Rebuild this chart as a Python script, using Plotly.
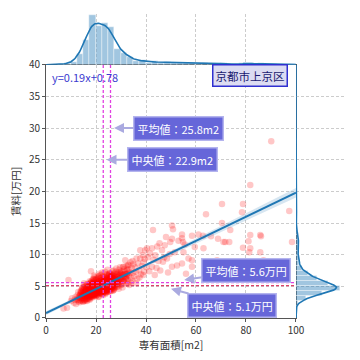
import numpy as np
import plotly.graph_objects as go

# ---- data: (専有面積 m2, 賃料 万円), grouped by region ----
pts_small = [(7.0,1.5),(8.4,1.6),(9.0,6.0),(10.4,3.1),(10.0,2.7),(11.2,2.4),(11.8,3.3),(12.3,2.9),
             (12.6,3.6),(12.0,2.2),(12.9,4.1),(11.5,2.9),(13.0,2.6),(12.7,3.1)]
pts_b = [(13.4,3.2),(13.8,2.8),(14.1,3.9),(14.3,3.0),(14.6,3.5),(14.9,4.4),(15.1,2.9),(15.3,3.7),(15.5,4.1),
         (15.7,3.3),(15.9,5.0),(16.1,3.8),(16.2,4.5),(16.4,2.7),(16.5,3.4),(16.7,4.0),(16.8,4.8),(16.9,3.6),
         (13.6,3.6),(14.4,4.7),(15.0,3.2),(15.8,4.3),(16.3,5.3),(14.8,2.6),(16.6,3.1),(15.4,4.8),(13.9,4.2),
         (16.0,3.0),(15.2,5.5),(16.9,4.2)]
pts_c = [(17.0,3.9),(17.1,4.6),(17.2,3.3),(17.3,5.2),(17.4,4.1),(17.5,2.9),(17.6,4.9),(17.7,3.7),(17.8,5.6),
         (17.9,4.3),(18.0,3.5),(18.0,7.4),(18.1,4.8),(18.2,4.0),(18.3,5.9),(18.4,3.2),(18.5,4.5),(18.6,5.3),
         (18.7,3.8),(18.8,6.2),(18.9,4.2),(19.0,5.0),(19.1,3.6),(19.2,4.7),(19.3,5.5),(19.4,4.1),(19.5,6.5),
         (19.6,3.9),(19.7,5.1),(19.8,4.4),(19.9,6.0),(17.2,4.3),(17.8,4.6),(18.3,4.4),(18.6,3.4),(19.0,4.0),
         (19.4,5.0),(19.8,3.4),(17.5,5.8),(18.9,5.6),(19.6,4.6),(18.2,5.0),(17.0,5.0),(19.2,6.7),(18.5,3.9)]
pts_d = [(20.0,4.2),(20.1,5.3),(20.2,3.6),(20.3,6.1),(20.4,4.7),(20.5,5.6),(20.6,3.9),(20.7,4.9),(20.8,6.6),
         (20.9,4.4),(21.0,5.2),(21.1,3.4),(21.2,5.8),(21.3,4.6),(21.4,7.0),(21.5,4.1),(21.6,5.5),(21.7,4.8),
         (21.8,6.3),(21.9,3.8),(22.0,5.0),(22.1,4.4),(22.2,6.0),(22.3,5.4),(22.4,4.2),(22.5,7.2),(22.6,4.9),
         (22.7,5.7),(22.8,3.6),(22.9,5.1),(20.2,5.0),(20.6,5.9),(20.9,3.3),(21.2,4.3),(21.5,6.7),(21.8,5.1),
         (22.1,3.9),(22.4,5.6),(22.7,6.5),(20.4,4.0),(21.0,6.4),(21.6,4.5),(22.2,4.7),(22.8,4.6),(20.7,5.4),
         (21.4,5.0),(22.0,6.8),(22.6,3.8),(21.9,5.3),(20.1,4.6)]
pts_e = [(23.0,4.8),(23.1,5.9),(23.2,4.1),(23.3,6.6),(23.4,5.2),(23.5,4.5),(23.6,7.3),(23.7,5.6),(23.8,4.0),
         (23.9,6.1),(24.0,5.0),(24.1,4.6),(24.2,6.9),(24.3,5.4),(24.4,4.3),(24.5,5.8),(24.6,7.6),(24.7,4.9),
         (24.8,6.3),(24.9,5.3),(25.0,4.4),(25.1,6.0),(25.2,5.1),(25.3,7.0),(25.4,4.7),(25.5,5.7),(25.6,6.5),
         (25.7,4.2),(25.8,5.5),(25.9,6.2),(23.2,5.4),(23.6,4.6),(24.0,6.4),(24.4,5.1),(24.8,4.5),(25.2,5.9),
         (25.6,5.0),(23.4,6.0),(23.9,4.4),(24.6,5.5),(25.0,6.7),(25.4,5.3),(23.1,5.0),(24.2,4.8),(25.8,4.8)]
pts_f = [(26.0,5.4),(26.1,6.8),(26.3,4.6),(26.4,5.9),(26.6,7.4),(26.7,5.0),(26.9,6.3),(27.0,4.4),(27.2,5.6),
         (27.3,7.0),(27.5,6.0),(27.6,4.8),(27.8,6.6),(27.9,5.3),(28.1,7.8),(28.2,5.8),(28.4,4.9),(28.5,6.4),
         (28.7,5.5),(28.8,7.2),(29.0,6.1),(29.1,4.6),(29.3,6.9),(29.4,5.7),(29.6,8.0),(29.7,6.3),(29.9,5.2),
         (26.2,5.2),(26.8,5.7),(27.4,5.1),(28.0,6.1),(28.6,6.0),(29.2,5.4),(29.8,7.1),(27.1,6.2),(28.3,6.9),
         (29.5,6.6),(26.5,6.2),(27.7,5.5),(28.9,5.0)]
pts_g = [(30.1,6.2),(30.3,7.4),(30.5,5.3),(30.8,6.8),(31.0,8.1),(31.2,5.8),(31.5,7.0),(31.7,9.1),(31.9,6.4),
         (32.1,5.5),(32.4,7.6),(32.6,6.0),(32.9,8.4),(33.1,6.7),(33.3,5.2),(33.6,7.2),(33.8,8.8),(34.0,6.3),
         (34.3,7.9),(34.5,5.9),(34.8,7.1),(35.0,8.5),(30.6,4.8),(31.4,6.5),(32.2,6.9),(33.0,7.7),(33.9,5.6),
         (34.6,9.0),(30.9,5.9),(32.8,5.4)]
pts_h = [(35.3,6.6),(35.6,8.0),(35.9,7.3),(36.2,9.4),(36.5,6.2),(36.8,8.6),(37.2,7.5),(37.7,9.4),(37.7,10.7),
         (38.0,6.9),(38.3,8.2),(38.7,9.9),(39.0,8.8),(39.3,7.3),(39.7,10.7),(36.0,5.5),(37.4,6.4),(38.9,6.8),
         (39.5,9.3)]
pts_i = [(40.4,11.0),(40.2,8.0),(40.8,9.6),(41.3,7.4),(41.6,10.2),(42.4,8.1),(42.4,11.0),(42.8,13.9),(43.0,9.2),
         (43.7,9.9),(44.2,7.9),(44.5,11.3),(45.4,11.8),(45.7,7.5),(46.4,10.7),(46.8,8.9),(47.3,9.6),(48.0,12.8),
         (48.4,9.4),(48.8,7.2),(49.7,12.0),(49.5,10.1),(43.5,6.8),(45.0,9.0),(47.5,11.5)]
pts_j = [(50.4,14.6),(50.8,14.0),(50.4,12.5),(50.4,8.1),(51.5,10.4),(52.4,8.3),(53.0,12.2),(54.4,13.2),
         (54.4,12.6),(54.8,12.0),(55.0,10.4),(55.5,11.6),(54.4,8.6),(57.0,9.4),(58.4,13.0),(58.4,9.1),
         (58.4,8.1),(56.0,7.0),(59.5,11.2)]
pts_k = [(61.0,13.2),(62.8,13.0),(63.0,11.0),(64.0,16.4),(64.1,7.9),(66.0,12.9),(68.4,9.1),(68.8,12.5),
         (70.4,18.0),(70.4,15.0),(71.0,12.0),(71.7,12.0),(73.3,12.0),(73.7,13.9),(78.4,16.7),(78.8,18.0),
         (78.8,11.1),(81.0,12.1),(81.3,10.4),(81.7,21.0),(81.7,13.1),(81.7,11.0),(85.7,13.1),(86.0,12.9),
         (85.7,10.4),(87.0,9.1),(90.1,27.9),(97.3,16.9),(98.4,12.0)]

# dense core (overlapping points)
core1_area = [17.0,17.1,17.1,17.2,17.3,17.3,17.4,17.5,17.5,17.6,17.7,17.7,17.8,17.9,17.9,18.0,18.1,18.1,18.2,18.3,
              18.3,18.4,18.5,18.5,18.6,18.7,18.7,18.8,18.9,18.9,19.0,19.1,19.1,19.2,19.3,19.3,19.4,19.5,19.5,19.6,
              17.2,17.6,18.0,18.4,18.8,19.2,17.4,17.8,18.2,18.6,19.0,19.4,17.1,17.5,17.9,18.3,18.7,19.1,19.5,18.5]
core1_rent = [4.1,3.5,4.8,4.4,3.8,5.1,4.6,3.3,4.0,5.4,4.2,3.7,4.9,4.5,3.9,5.2,4.3,3.6,4.7,5.5,
              4.1,3.4,4.6,5.0,4.2,3.8,5.3,4.4,3.9,4.8,4.5,3.7,5.1,4.3,4.9,3.5,4.6,5.4,4.0,4.7,
              3.2,3.9,4.5,4.9,3.6,5.8,3.0,5.0,3.7,4.6,5.4,4.2,4.4,3.8,5.5,4.0,4.5,6.1,3.6,4.8]
core2_area = [19.7,19.8,19.9,20.0,20.1,20.2,20.3,20.4,20.5,20.6,20.7,20.8,20.9,21.0,21.1,21.2,21.3,21.4,21.5,21.6,
              21.7,21.8,21.9,22.0,22.1,22.2,22.3,19.7,19.9,20.1,20.3,20.5,20.7,20.9,21.1,21.3,21.5,21.7,21.9,22.1,
              22.3,19.8,20.2,20.6,21.0,21.4,21.8,22.2,20.0,20.4,20.8,21.2,21.6,22.0,21.0]
core2_rent = [4.4,5.0,3.9,4.7,5.4,4.2,4.9,5.7,4.1,4.6,5.2,3.8,4.8,5.5,4.3,5.0,4.5,6.0,4.7,5.3,
              4.0,4.9,5.6,4.4,5.1,4.6,5.9,3.7,5.3,4.5,3.6,5.0,4.3,5.8,4.0,4.7,5.2,4.4,6.3,4.9,
              4.2,4.8,4.1,5.5,4.6,3.9,5.4,5.0,6.2,4.5,4.9,5.7,4.2,4.7,5.1]
core3_area = [22.3,22.4,22.5,22.5,22.6,22.7,22.8,22.8,22.9,23.0,23.1,23.1,23.2,23.3,23.4,23.4,23.5,23.6,23.7,23.7,
              23.8,23.9,24.0,24.0,24.1,24.2,24.3,24.3,24.4,24.5,24.6,24.6,24.7,24.8,24.9,24.9,
              22.4,22.6,22.8,23.0,23.2,23.4,23.6,23.8,24.0,24.2,24.4,24.6,24.8,
              22.5,22.9,23.3,23.7,24.1,24.5,24.9,22.7,23.1,23.5,23.9,24.3,24.7,23.0,23.6,24.2,24.8,23.3,24.5]
core3_rent = [5.0,4.5,5.6,4.2,5.3,4.8,6.1,4.4,5.1,4.7,5.5,4.1,5.8,4.9,5.2,4.3,6.4,5.0,4.6,5.4,
              4.0,5.7,4.8,5.3,4.4,6.0,5.1,4.7,5.5,4.2,5.9,4.9,5.2,4.5,6.6,5.0,
              3.9,5.2,4.6,5.9,4.3,6.2,4.8,3.8,5.4,4.5,6.8,5.0,4.1,
              5.7,4.4,5.0,6.3,4.7,5.3,4.6,4.8,5.6,4.1,5.2,6.0,4.4,5.4,4.9,5.8,5.1,4.3,5.5]
core4_area = [25.0,25.1,25.2,25.3,25.4,25.5,25.6,25.7,25.8,25.9,26.0,26.1,26.2,26.3,26.4,26.5,26.6,26.7,26.8,26.9,
              27.0,27.1,27.2,27.3,25.1,25.3,25.5,25.7,25.9,26.1,26.3,26.5,26.7,26.9,27.1,
              25.2,25.6,26.0,26.4,26.8,27.2,25.4,25.8,26.2,26.6,27.0,25.5,26.3,26.9,25.9]
core4_rent = [5.3,6.0,4.7,5.6,6.3,5.0,4.5,5.9,5.2,6.6,4.8,5.5,6.1,4.4,5.7,5.1,6.8,4.9,5.4,6.2,
              4.6,5.8,5.3,6.5,4.2,5.0,6.0,4.6,5.4,6.4,4.9,5.6,4.3,5.9,5.2,
              6.9,5.1,4.7,5.8,6.3,4.5,5.5,4.4,6.6,5.0,5.7,7.1,5.3,4.8,6.1]
core5_area = [13.1,13.3,13.5,13.7,13.9,14.0,14.2,14.4,14.5,14.7,14.9,15.0,15.2,15.3,15.5,15.6,15.8,15.9,16.1,16.2,
              16.4,16.5,16.7,16.8,16.9,13.8,14.3,14.8,15.4,15.9,16.3,16.8,14.1,14.6,15.1,15.7,16.2,16.6,15.0,16.0]
core5_rent = [2.8,3.4,2.5,3.9,3.1,4.3,2.7,3.6,4.8,3.2,4.0,2.6,3.8,4.5,3.0,5.1,3.5,4.2,2.9,4.7,
              3.3,5.4,3.9,4.4,3.0,3.7,4.1,3.5,2.8,4.6,3.6,5.0,3.3,4.5,3.9,2.7,4.0,3.7,4.9,4.3]
core6_area = [26.2,26.5,26.8,27.1,27.4,27.7,28.0,28.3,28.6,28.9,29.2,29.5,29.8,30.1,30.4,30.7,31.0,31.3,31.6,31.9,
              32.2,32.5,32.8,26.4,27.0,27.6,28.2,28.8,29.4,30.0,30.6,31.2,31.8,32.4,33.0]
core6_rent = [6.0,5.1,7.0,5.6,6.5,4.9,7.3,5.9,6.8,5.3,7.6,6.2,5.7,7.0,6.4,8.0,5.8,6.9,7.4,6.1,
              8.2,6.6,7.2,6.7,7.5,6.3,5.4,6.6,7.2,5.9,6.8,7.7,6.3,7.0,8.3]
core7_area = [17.3,17.4,17.6,17.7,17.9,18.0,18.1,18.2,18.4,18.5,18.6,18.8,18.9,19.0,19.1,19.3,19.4,19.6,19.7,19.8,
              17.5,18.0,18.3,18.7,19.0,19.2,19.5,17.8]
core7_rent = [4.7,3.6,4.2,5.0,3.4,4.6,5.7,3.9,4.8,4.1,5.2,3.7,4.4,5.6,4.0,4.6,3.8,5.3,4.3,4.9,
              5.1,3.3,4.9,4.3,6.0,3.9,4.4,4.0]

# summary values shown on the chart
mean_area, median_area = 25.8, 22.9
mean_rent, median_rent = 5.6, 5.1
slope, intercept = 0.19, 0.78
x_ticks = [0, 20, 40, 60, 80, 100]
y_ticks = [0, 5, 10, 15, 20, 25, 30, 35, 40]
region_label = "京都市上京区"

# ---- assemble ----
area, rent = [], []
for g in [pts_small, pts_b, pts_c, pts_d, pts_e, pts_f, pts_g, pts_h, pts_i, pts_j, pts_k]:
    for a, r in g:
        area.append(a); rent.append(r)
for xa, yr in [(core1_area, core1_rent), (core2_area, core2_rent), (core3_area, core3_rent),
               (core4_area, core4_rent), (core5_area, core5_rent), (core6_area, core6_rent),
               (core7_area, core7_rent)]:
    for a, r in zip(xa, yr):
        area.append(a); rent.append(r)
A = np.array(area); R = np.array(rent); n = len(A)

def kde(d, grid, adjust=1.0):
    bw = adjust * d.std(ddof=1) * len(d) ** (-0.2)
    z = (grid[:, None] - d[None, :]) / bw
    return np.exp(-0.5 * z * z).sum(1) / (len(d) * bw * np.sqrt(2 * np.pi))

gx = np.linspace(0, 100, 301)
gy = np.linspace(0, 40, 301)
kx = kde(A, gx, 0.6)
ky = kde(R, gy, 0.6)
xbin0, xbinw = 4.8, 2.5
ybin0, ybinw = 0.3, 0.8
hx, _ = np.histogram(A, bins=np.arange(xbin0, 160, xbinw), density=True)
hy, _ = np.histogram(R, bins=np.arange(ybin0, 45, ybinw), density=True)
top_max = max(hx.max(), kx.max()) * 1.03
side_max = max(hy.max(), ky.max()) * 1.03

# regression band
xs = np.linspace(0, 100, 101)
yh = slope * xs + intercept
res = R - (slope * A + intercept)
s = np.sqrt((res ** 2).sum() / (n - 2))
sxx = ((A - A.mean()) ** 2).sum()
band = 1.96 * s * np.sqrt(1.0 / n + (xs - A.mean()) ** 2 / sxx) * 1.4

blue = "#1f77b4"
fig = go.Figure()
fig.add_trace(go.Scatter(x=A, y=R, mode="markers", xaxis="x", yaxis="y",
                         marker=dict(color="red", size=6.5, opacity=0.22, line=dict(width=0)),
                         hoverinfo="skip"))
fig.add_trace(go.Scatter(x=np.concatenate([xs, xs[::-1]]),
                         y=np.concatenate([yh + band, (yh - band)[::-1]]),
                         fill="toself", fillcolor="rgba(31,119,180,0.18)", line=dict(width=0),
                         mode="lines", xaxis="x", yaxis="y", hoverinfo="skip"))
fig.add_trace(go.Scatter(x=xs, y=yh, mode="lines", line=dict(color=blue, width=2),
                         xaxis="x", yaxis="y"))
# top marginal
fig.add_trace(go.Histogram(x=A, xaxis="x2", yaxis="y2", histnorm="probability density",
                           xbins=dict(start=xbin0, end=160, size=xbinw),
                           marker=dict(color="rgba(31,119,180,0.42)", line=dict(color="white", width=0.4))))
fig.add_trace(go.Scatter(x=gx, y=kx, mode="lines", line=dict(color=blue, width=1.6),
                         xaxis="x2", yaxis="y2"))
# right marginal
fig.add_trace(go.Histogram(y=R, xaxis="x3", yaxis="y3", histnorm="probability density",
                           ybins=dict(start=ybin0, end=45, size=ybinw),
                           marker=dict(color="rgba(31,119,180,0.42)", line=dict(color="white", width=0.4))))
fig.add_trace(go.Scatter(x=ky, y=gy, mode="lines", line=dict(color=blue, width=1.6),
                         xaxis="x3", yaxis="y3"))

shapes = []
for xv, c in [(median_area, "#e040e0"), (mean_area, "#e040e0")]:
    shapes.append(dict(type="line", xref="x", yref="y", x0=xv, x1=xv, y0=0, y1=40,
                       line=dict(color=c, width=1.3, dash="3px,2px"), layer="above"))
for yv, c in [(mean_rent, "#e040e0"), (median_rent, "#e0406a")]:
    shapes.append(dict(type="line", xref="x", yref="y", x0=0, x1=100, y0=yv, y1=yv,
                       line=dict(color=c, width=1.3, dash="3px,2px"), layer="above"))

font = "Noto Sans CJK JP"
box = dict(bgcolor="#6666d9", bordercolor="#b4b4ee", borderwidth=1.5, borderpad=3,
           font=dict(color="white", size=11, family=font),
           showarrow=True, arrowhead=2, arrowsize=1, arrowwidth=2, arrowcolor="#aaaae0",
           axref="x", ayref="y", xref="x", yref="y")
annotations = [
    dict(text=f"平均値：{mean_area}m2", x=27.2, y=30, ax=53, ay=30, **box),
    dict(text=f"中央値：{median_area}m2", x=24.2, y=25, ax=50.5, ay=25, **box),
    dict(text=f"平均値：{mean_rent}万円", x=55.3, y=6.0, ax=80.2, ay=7.5, **box),
    dict(text=f"中央値：{median_rent}万円", x=50, y=4.6, ax=74.5, ay=2.0, **box),
    dict(text=region_label, x=81.7, y=38.3, xref="x", yref="y", showarrow=False,
         bgcolor="#dcdcf2", bordercolor="#3030d0", borderwidth=1.5, borderpad=2,
         font=dict(color="#1a1a70", size=11.5, family=font)),
    dict(text=f"y={slope}x+{intercept}", x=1.5, y=38.1, xref="x", yref="y", showarrow=False,
         xanchor="left", font=dict(color="#3b3bd0", size=11, family=font)),
]

grid = dict(showgrid=True, gridcolor="#cccccc", griddash="3px,2px", gridwidth=1, zeroline=False,
            automargin=False)
axline = dict(showline=True, linecolor="#555555", linewidth=1, ticks="outside", ticklen=3,
              tickcolor="#555555", tickfont=dict(size=10, color="#333333", family=font))
dom = 0.8333
# page body has an 8px margin, so the figure is drawn at (8, 8) and sized 352x352
fig.update_layout(
    width=352, height=352, autosize=False,
    margin=dict(l=38, r=14, t=6, b=42),
    paper_bgcolor="white", plot_bgcolor="white", showlegend=False,
    font=dict(family=font, color="#333333"),
    xaxis=dict(domain=[0, dom], anchor="y", range=[0, 100], tickvals=x_ticks, mirror=True,
               title=dict(text="専有面積[m2]", font=dict(size=10.5), standoff=4), **grid, **axline),
    yaxis=dict(domain=[0, dom], anchor="x", range=[0, 40], tickvals=y_ticks, mirror=True,
               title=dict(text="賃料[万円]", font=dict(size=10.5), standoff=6), **grid, **axline),
    xaxis2=dict(domain=[0, dom], anchor="y2", range=[0, 100], tickvals=x_ticks, showticklabels=False,
                **grid),
    yaxis2=dict(domain=[dom, 1], anchor="x2", range=[0, top_max], showgrid=False, zeroline=False,
                showticklabels=False, automargin=False),
    xaxis3=dict(domain=[dom, 1], anchor="y3", range=[0, side_max], showgrid=False, zeroline=False,
                showticklabels=False, automargin=False),
    yaxis3=dict(domain=[0, dom], anchor="x3", range=[0, 40], tickvals=y_ticks, showticklabels=False,
                **grid),
    bargap=0, shapes=shapes, annotations=annotations,
)
fig.write_html("out.html")
